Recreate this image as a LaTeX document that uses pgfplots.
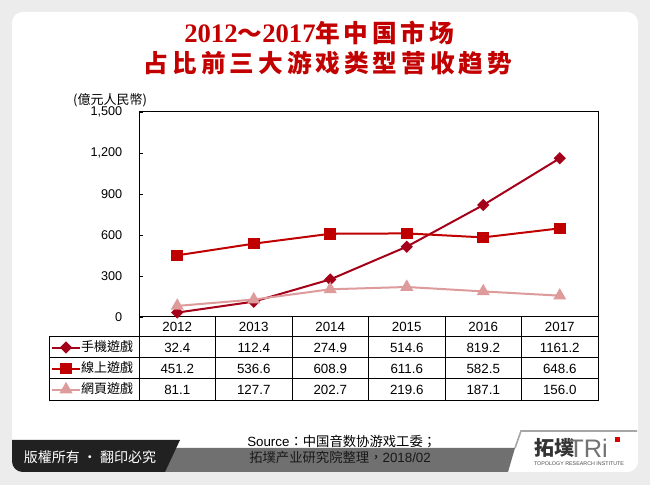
\documentclass[border=0pt]{standalone}
\usepackage{fontspec}
\usepackage{pgfplots}
\usepackage{pgfplotstable}
\pgfplotsset{compat=1.18}
\setmainfont{Liberation Sans}
\newfontfamily\cjk{Noto Sans CJK TC}
\newfontfamily\serifb{Liberation Serif}
\definecolor{mob}{RGB}{165,0,25}
\definecolor{onl}{RGB}{192,0,0}
\definecolor{web}{RGB}{222,155,155}
\definecolor{ttl}{RGB}{195,0,0}
\definecolor{bgg}{RGB}{236,236,236}
\pgfplotstableread{
x mob onl web
0 32.4 451.2 81.1
1 112.4 536.6 127.7
2 274.9 608.9 202.7
3 514.6 611.6 219.6
4 819.2 582.5 187.1
5 1161.2 648.6 156.0
}\datatab
\begin{document}
\begin{tikzpicture}
\begin{scope}[x=0.75pt,y=-0.75pt,yshift=363.75pt]
\fill[bgg] (0,0) rectangle (650,485);
\useasboundingbox (0,0) rectangle (650,485);
\fill[white, rounded corners=8pt] (12,12) rectangle (638,472);
% title
\node[text=ttl, inner sep=0] at (319,33) {\serifb\bfseries\fontsize{20}{24}\selectfont 2012{\cjk\bfseries\fontsize{18.5}{22}\selectfont\addfontfeature{LetterSpace=15}～}2017{\cjk\bfseries\fontsize{18.5}{22}\selectfont\addfontfeature{LetterSpace=15}年中国市场}};
\node[text=ttl, inner sep=0] at (328,63) {\cjk\bfseries\fontsize{18.5}{22}\selectfont\addfontfeature{LetterSpace=16}占比前三大游戏类型营收趋势};
% unit
\node[inner sep=0] at (110,100) {\cjk\fontsize{9.75}{11}\selectfont (億元人民幣)};
\end{scope}
\begin{axis}[at={(104.25pt,126pt)}, anchor=south west, scale only axis,
  width=344.25pt, height=153.75pt,
  xmin=-0.5, xmax=5.5, ymin=0, ymax=1500,
  ytick={0,300,...,1500}, xtick=\empty, ytick pos=left,
  tick align=inside, major tick length=3pt,
  tick style={black, line width=0.6pt},
  axis line style={black, line width=0.75pt},
  /pgf/number format/1000 sep={,},
  /pgf/number format/assume math mode=true,
  yticklabel style={font=\fontsize{9.5}{11}\selectfont, xshift=-9pt},
  clip=false,
  legend style={at={(-0.1917,-0.0976)}, anchor=north west, draw=none, fill=none,
    inner sep=0pt, outer sep=0pt, row sep=0pt,
    nodes={inner sep=0pt, text height=10.5pt, text depth=5.25pt,
      font=\cjk\fontsize{9.75}{11}\selectfont}},
  legend cell align=left,
  legend image code/.code={\draw[mark repeat=2,mark phase=2] plot coordinates {(0pt,0pt)(10.5pt,0pt)(21pt,0pt)};},
]
\addplot[mob, line width=1.5pt, mark=square*, mark size=2.5pt, mark options={rotate=45}] table[x=x,y=mob]{\datatab};
\addlegendentry{手機遊戲}
\addplot[onl, line width=1.5pt, mark=square*, mark size=3.6pt] table[x=x,y=onl]{\datatab};
\addlegendentry{線上遊戲}
\addplot[web, line width=1.5pt, mark=triangle*, mark size=4.2pt] table[x=x,y=web]{\datatab};
\addlegendentry{網頁遊戲}
\end{axis}
\begin{scope}[x=0.75pt,y=-0.75pt,yshift=363.75pt]
% table
\draw[black, line width=0.75pt] (49,337) -- (598,337) (49,358) -- (598,358) (49,379) -- (598,379) (49,401) -- (598,401) (49,337) -- (49,401);
\foreach \k in {0,...,6} { \draw[black, line width=0.75pt] (139+76.5*\k,317) -- (139+76.5*\k,401); }
\foreach \yr [count=\i from 0] in {2012,2013,2014,2015,2016,2017} {
  \node[font=\fontsize{10}{12}\selectfont] at (139+76.5*\i+38.25,327) {\yr};}
\foreach \v [count=\i from 0] in {32.4,112.4,274.9,514.6,819.2,1161.2} {
  \node[font=\fontsize{10}{12}\selectfont] at (139+76.5*\i+38.25,347.5) {\v};}
\foreach \v [count=\i from 0] in {451.2,536.6,608.9,611.6,582.5,648.6} {
  \node[font=\fontsize{10}{12}\selectfont] at (139+76.5*\i+38.25,368.5) {\v};}
\foreach \v [count=\i from 0] in {81.1,127.7,202.7,219.6,187.1,156.0} {
  \node[font=\fontsize{10}{12}\selectfont] at (139+76.5*\i+38.25,390) {\v};}
% bottom band
\fill[black!56] (150,448) -- (515,448) -- (508,472) -- (150,472) -- cycle;
\draw[black!35, line width=1.2pt] (515,448) -- (521,431) -- (637,431);
\fill[black!87] (180,440) -- (165,472) [rounded corners=8pt] -- (12,472) [sharp corners] -- (12,440) -- cycle;
\node[white, inner sep=0] at (90,457) {\cjk\fontsize{10.5}{12}\selectfont 版權所有 · 翻印必究};
\node[anchor=west, inner sep=0] at (247,441.7) {\fontsize{10}{12}\selectfont Source{\cjk ：中国音数协游戏工委；}};
\node[anchor=west, inner sep=0, text=black!90] at (249,457) {\fontsize{10}{12}\selectfont{\cjk 拓墣产业研究院整理，}2018/02};
% logo
\node[anchor=west, inner sep=0, text=black!80] at (534,448) {\cjk\bfseries\fontsize{15}{16}\selectfont 拓墣};
\node[anchor=west, inner sep=0, text=black!55] at (568,448) {\fontsize{19}{20}\selectfont TRi};
\fill[red!85!black] (615,437) rectangle (620,442);
\node[inner sep=0, text=black!70] at (579,464) {\fontsize{4}{5}\selectfont TOPOLOGY RESEARCH INSTITUTE};
\end{scope}
\end{tikzpicture}
\end{document}
